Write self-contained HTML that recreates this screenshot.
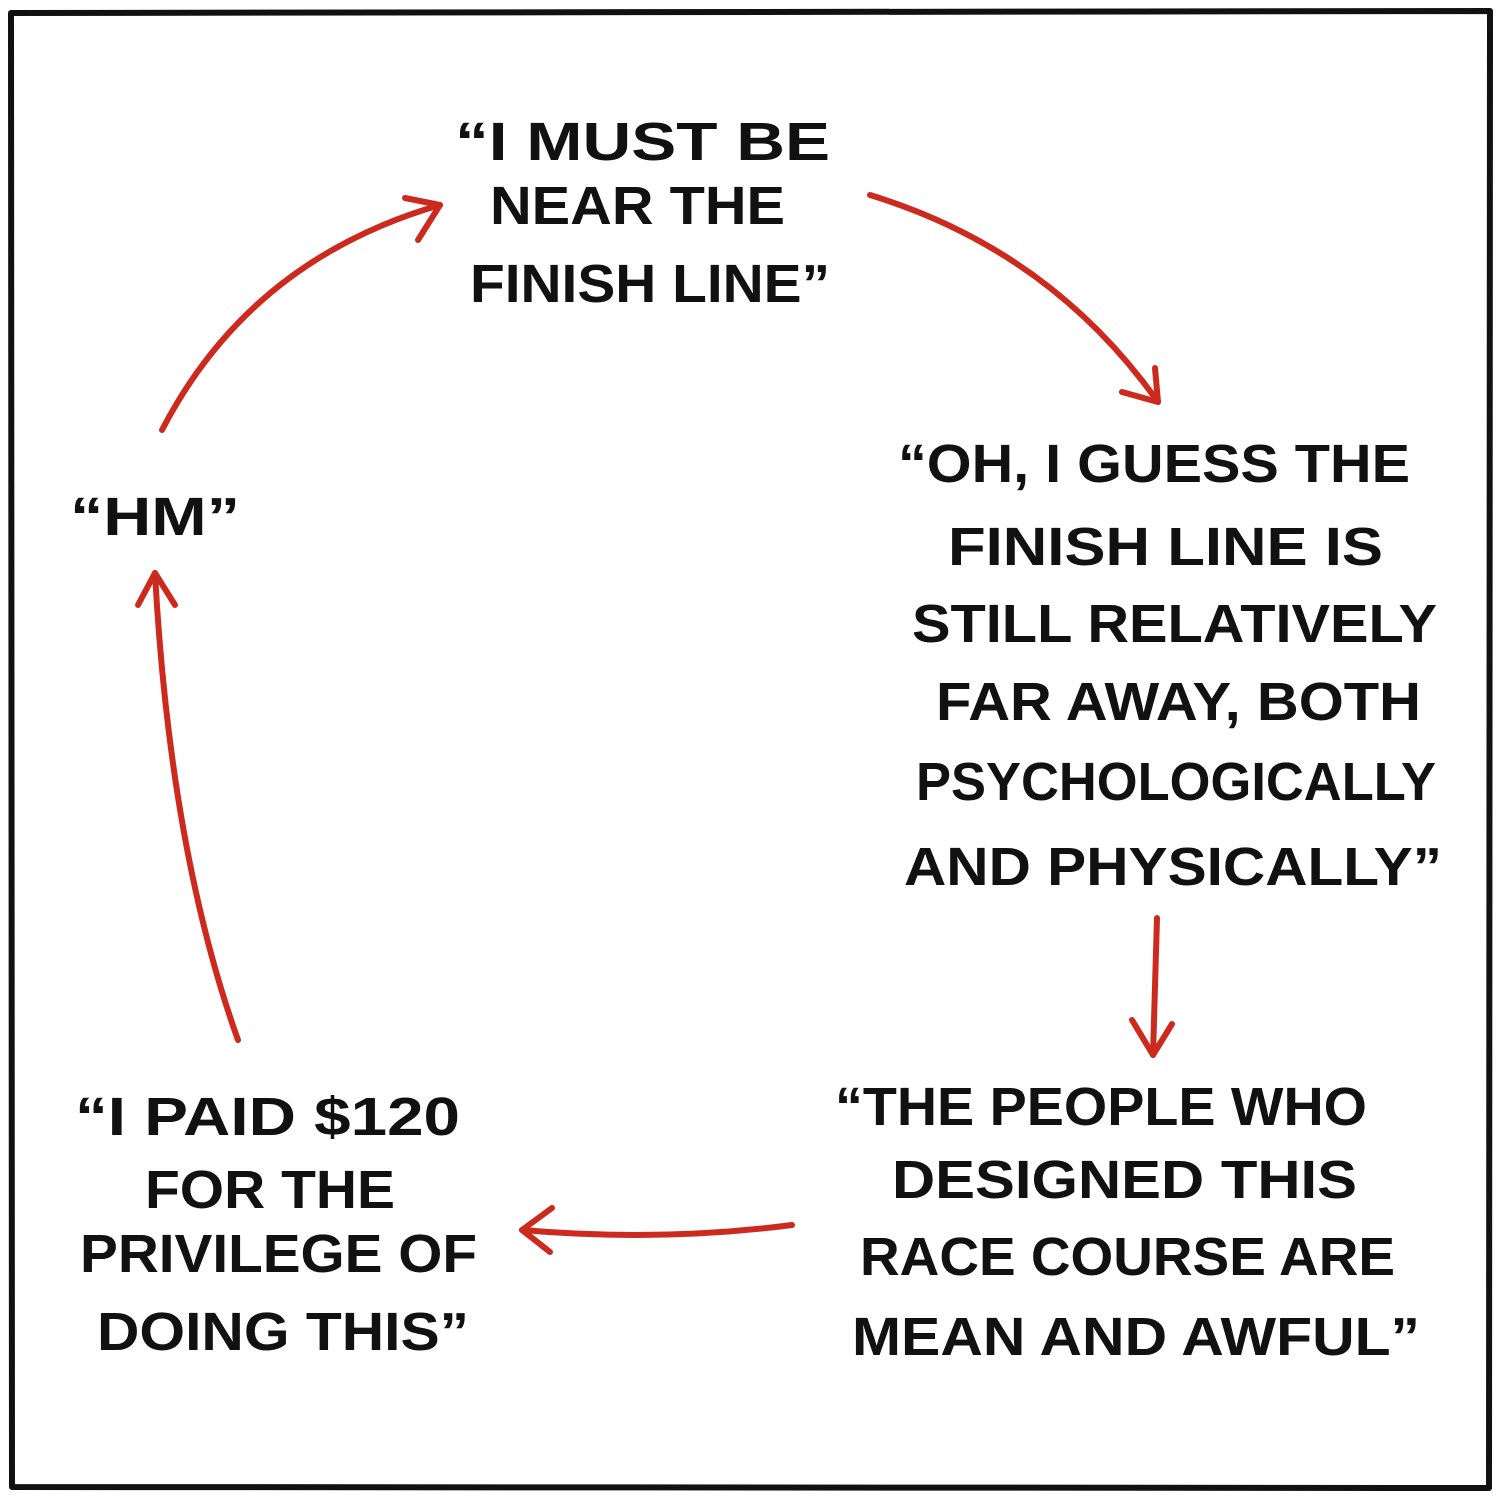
<!DOCTYPE html>
<html><head><style>
html,body{margin:0;padding:0;background:#fff}
svg{display:block}
text{font-family:"Liberation Sans",sans-serif;font-weight:bold;font-size:54px;fill:#111}
</style></head><body>
<svg width="1500" height="1500" viewBox="0 0 1500 1500">
<path d="M11,13 L1490,11 L1489,1488 L12,1487 Z" fill="none" stroke="#111" stroke-width="6" stroke-linejoin="round"/>
<g stroke="#cc2a1f" stroke-width="6" fill="none" stroke-linecap="round" stroke-linejoin="round">
<path d="M162,430 Q250,260 440,205"/><path d="M405,198 L440,205 L418,240"/>
<path d="M870,195 Q1050,250 1158,402"/><path d="M1155,368 L1158,402 L1122,392"/>
<path d="M1157,918 L1153,1055"/><path d="M1132,1020 L1153,1055 L1172,1024"/>
<path d="M792,1225 Q660,1242 522,1230"/><path d="M552,1208 L522,1230 L550,1252"/>
<path d="M238,1040 Q170,850 155,573"/><path d="M138,605 L155,573 L175,605"/>
</g>
<g lengthAdjust="spacingAndGlyphs">
<text x="455" y="160" textLength="375" lengthAdjust="spacingAndGlyphs">“I MUST BE</text>
<text x="490" y="224" textLength="295" lengthAdjust="spacingAndGlyphs">NEAR THE</text>
<text x="470" y="302" textLength="360" lengthAdjust="spacingAndGlyphs">FINISH LINE”</text>

<text x="70" y="535" textLength="170" lengthAdjust="spacingAndGlyphs">“HM”</text>

<text x="898" y="482" textLength="512" lengthAdjust="spacingAndGlyphs">“OH, I GUESS THE</text>
<text x="948" y="565" textLength="435" lengthAdjust="spacingAndGlyphs">FINISH LINE IS</text>
<text x="912" y="642" textLength="525" lengthAdjust="spacingAndGlyphs">STILL RELATIVELY</text>
<text x="936" y="720" textLength="485" lengthAdjust="spacingAndGlyphs">FAR AWAY, BOTH</text>
<text x="916" y="800" textLength="520" lengthAdjust="spacingAndGlyphs">PSYCHOLOGICALLY</text>
<text x="904" y="885" textLength="538" lengthAdjust="spacingAndGlyphs">AND PHYSICALLY”</text>

<text x="835" y="1125" textLength="532" lengthAdjust="spacingAndGlyphs">“THE PEOPLE WHO</text>
<text x="892" y="1198" textLength="465" lengthAdjust="spacingAndGlyphs">DESIGNED THIS</text>
<text x="860" y="1275" textLength="535" lengthAdjust="spacingAndGlyphs">RACE COURSE ARE</text>
<text x="852" y="1355" textLength="568" lengthAdjust="spacingAndGlyphs">MEAN AND AWFUL”</text>

<text x="75" y="1135" textLength="385" lengthAdjust="spacingAndGlyphs">“I PAID $120</text>
<text x="145" y="1208" textLength="250" lengthAdjust="spacingAndGlyphs">FOR THE</text>
<text x="80" y="1272" textLength="397" lengthAdjust="spacingAndGlyphs">PRIVILEGE OF</text>
<text x="97" y="1350" textLength="372" lengthAdjust="spacingAndGlyphs">DOING THIS”</text>
</g>
</svg>
</body></html>
